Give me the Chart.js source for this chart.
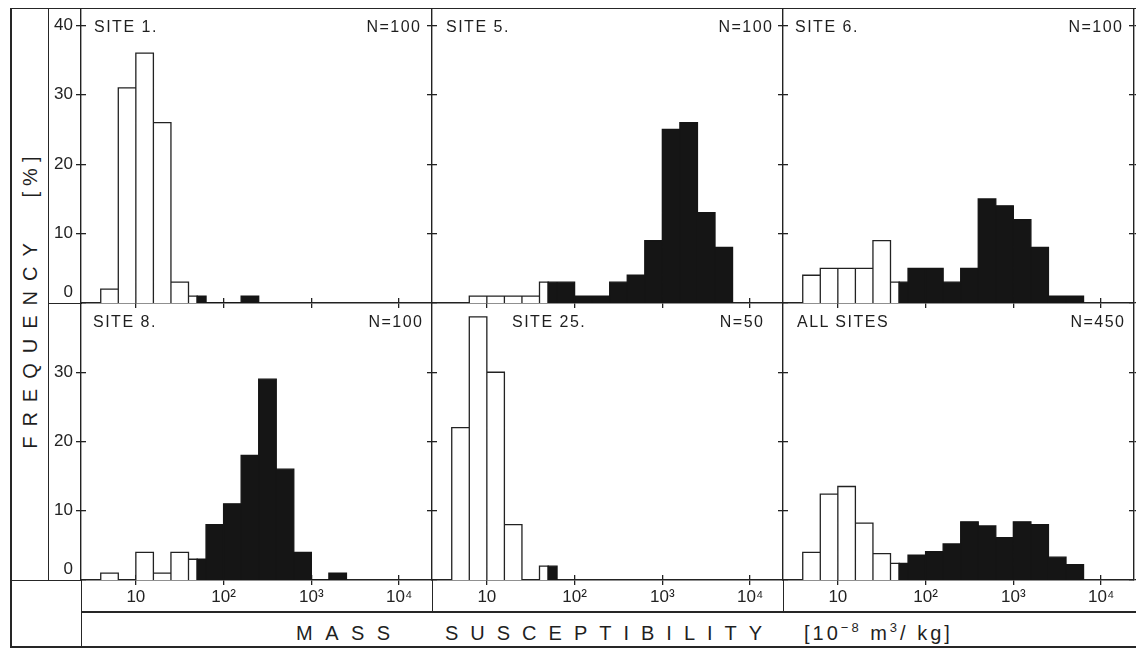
<!DOCTYPE html>
<html>
<head>
<meta charset="utf-8">
<title>Mass susceptibility histograms</title>
<script src="https://cdn.jsdelivr.net/npm/chart.js@4.4.1/dist/chart.umd.min.js"></script>
<style>
  html, body { margin: 0; padding: 0; background: #fff; }
  #figure {
    position: relative; width: 1136px; height: 648px; overflow: hidden; background: #fff;
    font-family: 'Liberation Sans', Arial, Helvetica, sans-serif; color: #1f1f1f;
  }
  #figure canvas { position: absolute; }
  .rule { position: absolute; background: #262626; }
  .tag { position: absolute; font-size: 16px; line-height: 16px; letter-spacing: 1.5px; white-space: nowrap; }
  .axis-title { position: absolute; font-size: 20px; line-height: 20px; white-space: nowrap; }
  .vertical { transform: translate(-50%, -50%) rotate(-90deg); }
  .axis-title sup { font-size: 13px; vertical-align: 8px; line-height: 0; }
</style>
</head>
<body>
<div id="figure">
  <!-- frame around the six panels, the label column and the axis-title row -->
  <div class="rule" style="left:10px;top:7.5px;width:1126px;height:1.5px"></div>
  <div class="rule" style="left:10px;top:7.5px;width:1.5px;height:641px"></div>
  <div class="rule" style="left:47.5px;top:7.5px;width:1.5px;height:573px"></div>
  <div class="rule" style="left:47.5px;top:302.5px;width:34px;height:1.5px"></div>
  <div class="rule" style="left:10px;top:579.5px;width:72px;height:1.5px"></div>
  <div class="rule" style="left:80.5px;top:580px;width:1.5px;height:68px"></div>
  <div class="rule" style="left:81px;top:611px;width:1055px;height:1.5px"></div>
  <div class="rule" style="left:431.5px;top:580px;width:1.5px;height:31px"></div>
  <div class="rule" style="left:782.5px;top:580px;width:1.5px;height:31px"></div>
  <div class="rule" style="left:10px;top:646px;width:1126px;height:1.5px"></div>

  <div class="axis-title vertical" style="left:30px;top:341px;letter-spacing:10px">FREQUENCY</div>
  <div class="axis-title vertical" style="left:30px;top:174px;letter-spacing:6px">[%]</div>
  <div class="axis-title" style="left:296px;top:623px;letter-spacing:12.5px">MASS</div>
  <div class="axis-title" style="left:445px;top:623px;letter-spacing:12px">SUSCEPTIBILITY</div>
  <div class="axis-title" style="left:804px;top:623px;letter-spacing:3px">[10<sup>−8</sup> m<sup>3</sup>/ kg]</div>
</div>

<script>
// Histogram bins: lower edges as powers of ten, each bin 0.2 decade wide.
const binLowerExp = [0.6, 0.8, 1.0, 1.2, 1.4, 1.6, 1.8, 2.0, 2.2, 2.4, 2.6, 2.8, 3.0, 3.2, 3.4, 3.6];
const binWidthExp = 0.2;
// Samples above this susceptibility are drawn as solid bars.
const solidFrom = 50;

// Frequencies in percent, one value per bin.
const site1Freq    = [2, 31, 36, 26, 3, 1, 0, 0, 1, 0, 0, 0, 0, 0, 0, 0];
const site5Freq    = [0, 1, 1, 1, 1, 3, 3, 1, 1, 3, 4, 9, 25, 26, 13, 8];
const site6Freq    = [4, 5, 5, 5, 9, 3, 5, 5, 3, 5, 15, 14, 12, 8, 1, 1];
const site8Freq    = [1, 0, 4, 1, 4, 3, 8, 11, 18, 29, 16, 4, 0, 1, 0, 0];
const site25Freq   = [22, 38, 30, 8, 0, 2, 0, 0, 0, 0, 0, 0, 0, 0, 0, 0];
const allSitesFreq = [4, 12.4, 13.5, 8.2, 3.8, 2.4, 3.6, 4.1, 5.2, 8.4, 7.8, 6.1, 8.4, 8, 3.3, 2.2];

const panelNames  = ['SITE 1.', 'SITE 5.', 'SITE 6.', 'SITE 8.', 'SITE 25.', 'ALL SITES'];
const panelCounts = [100, 100, 100, 100, 50, 450];
const panelFreqs  = [site1Freq, site5Freq, site6Freq, site8Freq, site25Freq, allSitesFreq];

// Axis ticks and ranges.
const xTickValues = [10, 100, 1000, 10000];
const xTickLabels = ['10', '10²', '10³', '10⁴'];
const yTicksUpper = [0, 10, 20, 30, 40];
const yTicksLower = [0, 10, 20, 30];
const xMin = Math.pow(10, 0.375);
const xMax = Math.pow(10, 4.375);
const yMaxUpper = 42.5;
const yMaxLower = 40;

// Page layout of the panel grid.
const colEdges = [81, 432, 783, 1134];
const rowEdges = [8, 303, 580];
const nameInset  = [13, 14, 12, 12, 80, 14];
const countInset = [12, 11, 12, 10, 20, 10];

const ink = '#222';
const openFill = '#ffffff';
const solidFill = '#151515';
const tickFont = { family: "'Liberation Sans', Arial, sans-serif", size: 17, lineHeight: 1.2 };

Chart.defaults.animation = false;
Chart.defaults.font.family = "'Liberation Sans', Arial, sans-serif";

// Outline of the bars on one side of the threshold, traced along the baseline
// so that every bar keeps its own vertical edges.
function histogramOutline(freqs, solid) {
  const pts = [];
  freqs.forEach((f, i) => {
    if (!f) return;
    let a = Math.pow(10, binLowerExp[i]);
    let b = Math.pow(10, binLowerExp[i] + binWidthExp);
    if (solid) {
      if (b <= solidFrom) return;
      a = Math.max(a, solidFrom);
    } else {
      if (a >= solidFrom) return;
      b = Math.min(b, solidFrom);
    }
    pts.push({ x: a, y: 0 }, { x: a, y: f }, { x: b, y: f }, { x: b, y: 0 });
  });
  return pts;
}

const fixTicks = (values) => (scale) => { scale.ticks = values.map(v => ({ value: v })); };
const tickGrid = (len) => ({
  drawOnChartArea: false, drawTicks: true, tickLength: len,
  color: ink, lineWidth: 1.3
});

const figure = document.getElementById('figure');

function addTag(text, css) {
  const el = document.createElement('div');
  el.className = 'tag';
  el.textContent = text;
  el.style.cssText += css;
  figure.appendChild(el);
}

function makePanel(index) {
  const row = Math.floor(index / 3);
  const col = index % 3;
  const left = colEdges[col], right = colEdges[col + 1];
  const top = rowEdges[row], bottom = rowEdges[row + 1];
  const firstCol = col === 0, lastCol = col === 2, lowerRow = row === 1;
  const leftSpace = firstCol ? 33 : 6;
  const bottomSpace = lowerRow ? 32 : 6;
  const rightSpace = lastCol ? 2 : 0;
  const yTicks = lowerRow ? yTicksLower : yTicksUpper;
  const yMax = lowerRow ? yMaxLower : yMaxUpper;

  const w = leftSpace + (right - left) + rightSpace;
  const h = (bottom - top) + bottomSpace;
  const canvas = document.createElement('canvas');
  canvas.width = w;
  canvas.height = h;
  canvas.style.left = (left - leftSpace) + 'px';
  canvas.style.top = top + 'px';
  canvas.style.width = w + 'px';
  canvas.style.height = h + 'px';
  figure.appendChild(canvas);

  const freqs = panelFreqs[index];
  const barStyle = {
    type: 'line', fill: 'origin', pointRadius: 0, pointHoverRadius: 0,
    tension: 0, borderWidth: 1.3, borderJoinStyle: 'miter',
    xAxisID: 'x', yAxisID: 'y'
  };

  const yAxis = (extra) => Object.assign({
    type: 'linear', min: 0, max: yMax,
    afterBuildTicks: fixTicks(yTicks),
    ticks: { display: false },
    border: { display: false },
    afterFit: (s) => { s.width = 0; s.paddingTop = 0; s.paddingBottom = 0; }
  }, extra);

  const scales = {
    x: {
      type: 'logarithmic', position: 'bottom', min: xMin, max: xMax,
      afterBuildTicks: fixTicks(xTickValues),
      ticks: {
        display: lowerRow, autoSkip: false, maxRotation: 0, minRotation: 0,
        padding: 2, color: ink, font: tickFont,
        callback: (v, i) => xTickLabels[i]
      },
      grid: tickGrid(5),
      border: { display: true, color: ink, width: 1.4 },
      afterFit: (s) => { s.height = bottomSpace; s.paddingLeft = 0; s.paddingRight = 0; }
    },
    xIn: {
      axis: 'x', type: 'logarithmic', position: { y: 0 }, min: xMin, max: xMax,
      afterBuildTicks: fixTicks(xTickValues),
      ticks: { display: false },
      grid: tickGrid(-5),
      border: { display: false },
      afterFit: (s) => { s.height = 0; s.paddingLeft = 0; s.paddingRight = 0; }
    },
    y: yAxis({
      position: 'left',
      ticks: {
        display: firstCol, padding: 3, color: ink, font: tickFont,
        callback: (v) => (v === 0 ? ['0', ''] : String(v))
      },
      grid: Object.assign(tickGrid(5), {
        tickColor: (ctx) => (ctx.tick && ctx.tick.value === 0 ? 'rgba(0,0,0,0)' : ink)
      }),
      border: { display: true, color: ink, width: 1.4 },
      afterFit: (s) => { s.width = leftSpace; s.paddingTop = 0; s.paddingBottom = 0; }
    }),
    yIn: yAxis({ axis: 'y', position: { x: xMin }, grid: tickGrid(-5) })
  };
  if (lastCol) {
    scales.yR = yAxis({
      axis: 'y', position: 'right', grid: tickGrid(5),
      border: { display: true, color: ink, width: 1.4 },
      afterFit: (s) => { s.width = rightSpace; s.paddingTop = 0; s.paddingBottom = 0; }
    });
    scales.yRIn = yAxis({ axis: 'y', position: { x: xMax }, grid: tickGrid(5) });
  }

  new Chart(canvas, {
    type: 'line',
    data: {
      datasets: [
        Object.assign({}, barStyle, {
          label: 'solid', order: 0, data: histogramOutline(freqs, true),
          backgroundColor: solidFill, borderColor: solidFill
        }),
        Object.assign({}, barStyle, {
          label: 'open', order: 1, data: histogramOutline(freqs, false),
          backgroundColor: openFill, borderColor: ink
        })
      ]
    },
    options: {
      responsive: false,
      maintainAspectRatio: false,
      devicePixelRatio: 1,
      animation: false,
      events: [],
      layout: { padding: 0, autoPadding: false },
      plugins: { legend: { display: false }, tooltip: { enabled: false }, title: { display: false } },
      scales
    }
  });

  addTag(panelNames[index], `left:${left + nameInset[index]}px;top:${top + 11}px;`);
  addTag('N=' + panelCounts[index],
    `right:${1136 - (right - countInset[index]) - 1.5}px;top:${top + 11}px;`);
}

for (let i = 0; i < 6; i++) makePanel(i);
</script>
</body>
</html>
